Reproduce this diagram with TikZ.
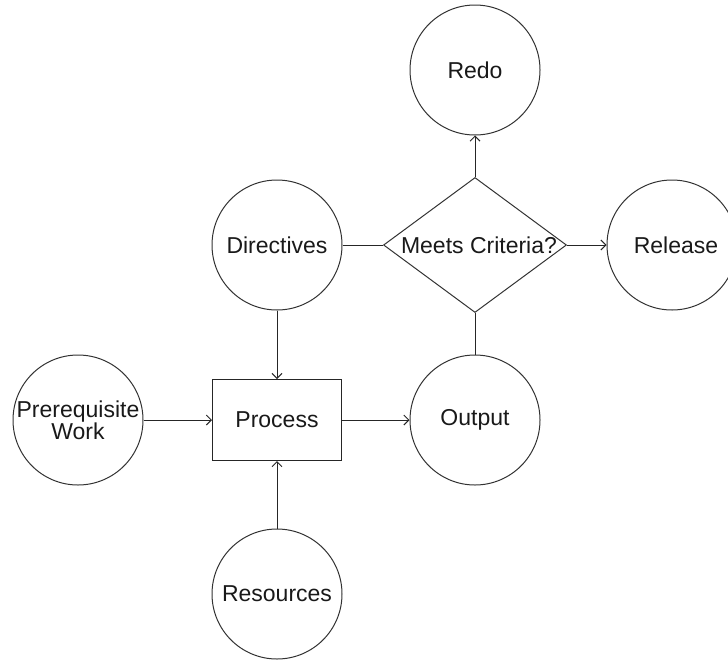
\documentclass[tikz,border=0pt]{standalone}
\usepackage{fontspec}
\setmainfont{Liberation Sans}
\usetikzlibrary{shapes.geometric,arrows.meta}
\begin{document}
\begin{tikzpicture}[x=1pt,y=-1pt,
  every node/.style={font=\fontsize{23}{20}\selectfont, text=black!90},
  circ/.style={circle,draw=black!80,line width=1pt,minimum size=130pt,inner sep=0pt,align=center},
  box/.style={rectangle,draw=black!85,line width=1pt,minimum width=129pt,minimum height=81pt,inner sep=0pt},
  dia/.style={diamond,draw=black!80,line width=1pt,minimum width=183pt,minimum height=135pt,inner sep=0pt},
  conn/.style={draw=black!85,line width=1pt},
  arr/.style={conn,-{Straight Barb[length=5pt,width=10pt]}}]
\clip (0,0) rectangle (728,659);
\node[circ] (redo) at (475,70) {Redo};
\node[circ] (dir) at (277,245) {Directives};
\node[dia] (crit) at (475,245) {};
\node (critlabel) at (479,245) {Meets Criteria?};
\node[circ] (rel) at (672,245) {};
\node (rellabel) at (676,245) {Release};
\node[circ] (pre) at (78,420) {Prerequisite\\Work};
\node[box] (proc) at (277,420) {Process};
\node[circ] (out) at (475,420) {Output};
\node[circ] (res) at (277,594) {Resources};
\draw[conn] (dir) -- (crit.west);
\draw[arr] (crit.north) -- (redo);
\draw[arr] (crit.east) -- (rel);
\draw[conn] (crit.south) -- (out);
\draw[arr] (dir) -- (proc);
\draw[arr] (pre) -- (proc);
\draw[arr] (res) -- (proc);
\draw[arr] (proc) -- (out);
\end{tikzpicture}
\end{document}
